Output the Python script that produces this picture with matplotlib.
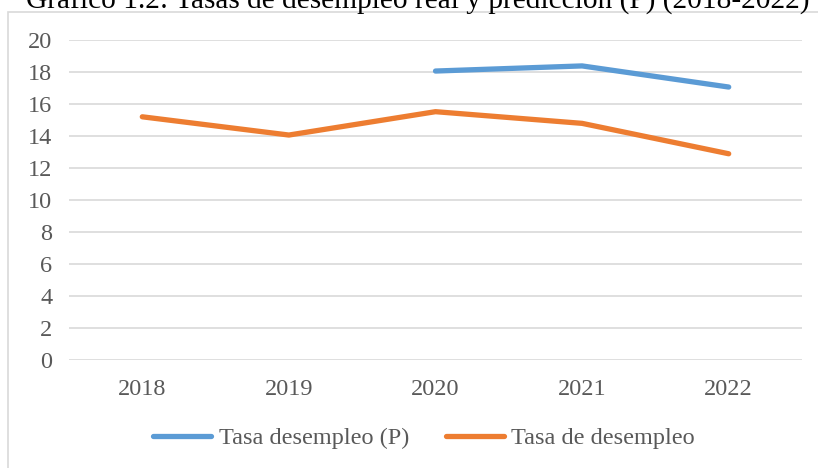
import matplotlib
matplotlib.use('Agg')
import matplotlib.pyplot as plt
from matplotlib.patches import Rectangle

years = ['2018', '2019', '2020', '2021', '2022']
tasa_p = [None, None, 18.06, 18.38, 17.06]
tasa_real = [15.2, 14.06, 15.52, 14.79, 12.89]
title = 'Gráfico 1.2: Tasas de desempleo real y predicción (P) (2018-2022)'

plt.rcParams['font.family'] = ['Liberation Serif', 'DejaVu Serif']
txt = '#595959'
grid = '#D9D9D9'

fig = plt.figure(figsize=(8.18, 4.68), dpi=100)
W, H = 818.0, 468.0

# outer chart frame
fig.patches.append(Rectangle((8 / W, -0.1), 1.0, 1 - 12 / H + 0.1, transform=fig.transFigure,
                             fill=False, edgecolor=grid, linewidth=1.2))

# title sits above the frame, cut off by the top of the image
fig.text(418 / W, 1 - 8 / H, title, ha='center', va='baseline', fontsize=21.2, color='black')

ax = fig.add_axes([69 / W, 1 - 360 / H, (802 - 69) / W, 320 / H])
x = list(range(len(years)))
xp = [i for i, v in zip(x, tasa_p) if v is not None]
yp = [v for v in tasa_p if v is not None]
ax.plot(xp, yp, color='#5B9BD5', linewidth=3.8, solid_capstyle='round', solid_joinstyle='round',
        label='Tasa desempleo (P)')
ax.plot(x, tasa_real, color='#ED7D31', linewidth=3.8, solid_capstyle='round', solid_joinstyle='round',
        label='Tasa de desempleo')

ax.set_xlim(-0.5, 4.5)
ax.set_ylim(0, 20)
ax.set_yticks(range(0, 21, 2))
ax.set_xticks(x)
ax.set_xticklabels(years)
ax.grid(axis='y', color=grid, linewidth=1.2)
ax.set_axisbelow(True)
for s in ax.spines.values():
    s.set_visible(False)
ax.tick_params(length=0, labelsize=17.5, colors=txt)
ax.tick_params(axis='y', pad=12)
ax.tick_params(axis='x', pad=14)

leg = fig.legend(loc='center', bbox_to_anchor=(424 / W, 1 - 438 / H), ncol=2, frameon=False,
                 fontsize=17.5, handlelength=2.4, columnspacing=1.5, handletextpad=0.3)
for t in leg.get_texts():
    t.set_color(txt)

fig.savefig('out.png', dpi=100)
